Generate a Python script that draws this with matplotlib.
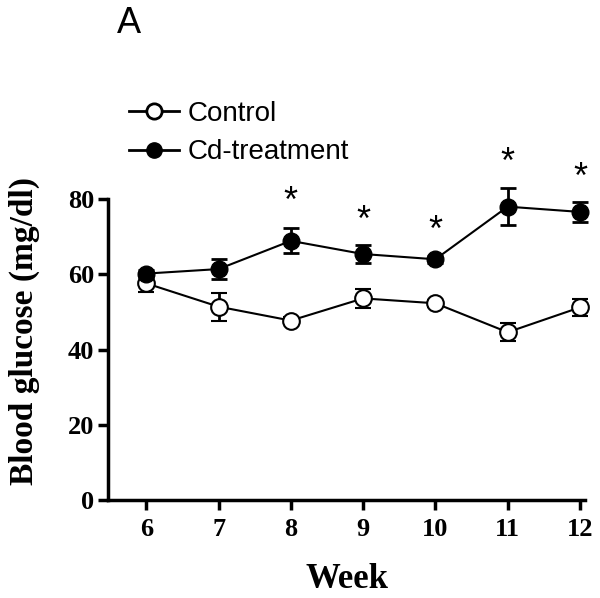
import numpy as np
import matplotlib
matplotlib.use("Agg")
import matplotlib.pyplot as plt
from matplotlib.lines import Line2D

weeks = [6, 7, 8, 9, 10, 11, 12]
control = [57.6, 51.4, 47.7, 53.6, 52.3, 44.6, 51.2]
control_err = [2.4, 3.7, 1.0, 2.5, 1.0, 2.4, 2.2]
cd = [60.2, 61.4, 68.9, 65.4, 64.0, 78.0, 76.6]
cd_err = [1.0, 2.7, 3.3, 2.3, 1.0, 5.0, 2.6]
star_weeks = [8, 9, 10, 11, 12]
star_y = [79.0, 74.0, 71.5, 89.5, 85.5]

serif = ["Liberation Serif", "DejaVu Serif"]
sans = ["Liberation Sans", "DejaVu Sans"]

fig = plt.figure(figsize=(6.0, 5.98), dpi=100)
ax = fig.add_axes([0.18, 0.164, 0.795, 0.503])

ax.errorbar(weeks, control, yerr=control_err, color="black", marker="o",
            markerfacecolor="white", markeredgecolor="black", markersize=12,
            markeredgewidth=1.5, linewidth=1.5, elinewidth=2, capsize=6,
            capthick=2, clip_on=False, zorder=3)
ax.errorbar(weeks, cd, yerr=cd_err, color="black", marker="o",
            markerfacecolor="black", markersize=12, linewidth=1.5,
            elinewidth=2, capsize=6, capthick=2, clip_on=False, zorder=3)

for w, y in zip(star_weeks, star_y):
    ax.text(w, y, "*", ha="center", va="center", fontsize=26,
            family=sans, clip_on=False)

ax.set_xlim(5.47, 12.07)
ax.set_ylim(0, 80)
ax.set_xticks(weeks)
ax.set_yticks([0, 20, 40, 60, 80])

for s in ["top", "right"]:
    ax.spines[s].set_visible(False)
for s in ["left", "bottom"]:
    ax.spines[s].set_linewidth(2.5)
ax.tick_params(direction="out", length=7, width=2.5, pad=3)
ax.tick_params(axis="x", pad=6)
for lab in ax.get_xticklabels() + ax.get_yticklabels():
    lab.set_family(serif)
    lab.set_fontweight("bold")
    lab.set_fontsize(19)

ax.set_xlabel("Week", family=serif, fontweight="bold", fontsize=25, labelpad=16)
ax.set_ylabel("Blood glucose (mg/dl)", family=serif, fontweight="bold",
              fontsize=24)
ax.yaxis.set_label_coords(-0.143, 0.56)

h = [Line2D([], [], color="black", marker="o", markerfacecolor="white",
            markersize=11, markeredgewidth=2, linewidth=2),
     Line2D([], [], color="black", marker="o", markerfacecolor="black",
            markersize=11, linewidth=2)]
fig.legend(h, ["Control", "Cd-treatment"], loc="upper left",
           bbox_to_anchor=(0.197, 0.85), frameon=False,
           prop={"family": sans, "size": 20}, handlelength=1.8,
           handletextpad=0.3, labelspacing=0.45, borderaxespad=0)

fig.text(0.195, 0.96, "A", family=sans, fontsize=26, va="center", ha="left")

fig.savefig("out.png", dpi=100)
